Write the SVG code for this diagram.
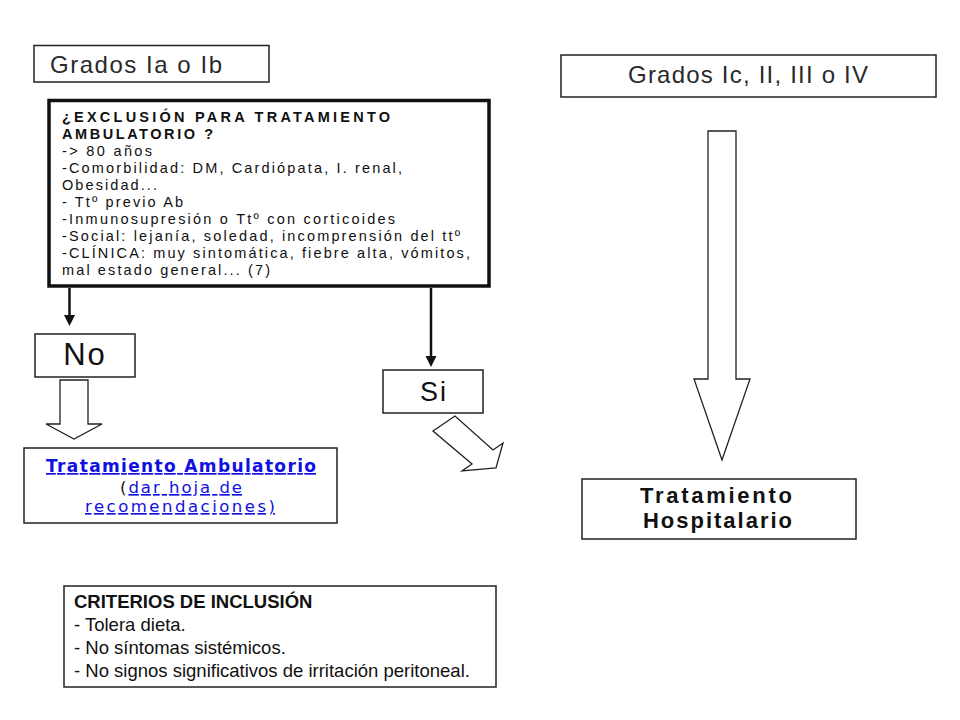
<svg xmlns="http://www.w3.org/2000/svg" width="960" height="720" viewBox="0 0 960 720">
<style>
.box{fill:#fff;stroke:#222;stroke-width:1.5}
.t{font-family:"Liberation Sans",Arial,sans-serif;fill:#111}
.g{font-size:24px;fill:#2a2a2a}
.ex{font-size:14.5px}
.exb{font-size:14.5px;font-weight:bold}
.v{font-family:"DejaVu Sans",Verdana,sans-serif}
.lnk{fill:#1010e0;text-decoration:underline}
.hol{fill:#fff;stroke:#222;stroke-width:1.3;stroke-linejoin:miter}
.thin{stroke:#111;stroke-width:2.5;fill:none}
</style>
<defs>
<marker id="ah" markerUnits="userSpaceOnUse" markerWidth="12" markerHeight="12" refX="3" refY="5.5" orient="auto">
<path d="M0,0 L11,5.5 L0,11 z" fill="#111"/>
</marker>
</defs>
<rect width="960" height="720" fill="#fff"/>

<g id="grados-ia">
<rect class="box" x="34" y="45.5" width="235" height="36.5"/>
<text class="t g" x="50" y="73" textLength="172" lengthAdjust="spacing">Grados Ia o Ib</text>
</g>

<g id="exclusion">
<rect x="49" y="100.5" width="440" height="185.5" fill="#fff" stroke="#111" stroke-width="3.5"/>
<text class="t exb" x="62" y="122" textLength="328" lengthAdjust="spacing">¿EXCLUSIÓN PARA TRATAMIENTO</text>
<text class="t exb" x="62" y="139" textLength="151" lengthAdjust="spacing">AMBULATORIO ?</text>
<text class="t ex" x="62" y="156" textLength="90" lengthAdjust="spacing">-&gt; 80 años</text>
<text class="t ex" x="62" y="173" textLength="340" lengthAdjust="spacing">-Comorbilidad: DM, Cardiópata, I. renal,</text>
<text class="t ex" x="62" y="190" textLength="95" lengthAdjust="spacing">Obesidad...</text>
<text class="t ex" x="62" y="207" textLength="121" lengthAdjust="spacing">- Ttº previo Ab</text>
<text class="t ex" x="62" y="224" textLength="333" lengthAdjust="spacing">-Inmunosupresión o Ttº con corticoides</text>
<text class="t ex" x="62" y="241" textLength="398" lengthAdjust="spacing">-Social: lejanía, soledad, incomprensión del ttº</text>
<text class="t ex" x="62" y="258" textLength="408" lengthAdjust="spacing">-CLÍNICA: muy sintomática, fiebre alta, vómitos,</text>
<text class="t ex" x="62" y="275" textLength="208" lengthAdjust="spacing">mal estado general... (7)</text>
</g>

<g id="no">
<rect class="box" x="35" y="334" width="100" height="43"/>
<text class="t" x="85" y="365" font-size="31" text-anchor="middle" letter-spacing="2">No</text>
</g>

<g id="si">
<rect class="box" x="383" y="370" width="100" height="43"/>
<text class="t" x="434" y="401" font-size="27" text-anchor="middle" letter-spacing="2">Si</text>
</g>

<g id="ambulatorio">
<rect class="box" x="24" y="448" width="313" height="75"/>
<text class="v lnk" x="46" y="472" font-size="17" font-weight="bold" textLength="270" lengthAdjust="spacing">Tratamiento Ambulatorio</text>
<text class="v" x="120" y="493" font-size="16.5" textLength="122" lengthAdjust="spacing" fill="#111">(<tspan class="lnk">dar hoja de</tspan></text>
<text class="v lnk" x="85" y="512" font-size="16.5" textLength="190" lengthAdjust="spacing">recomendaciones)</text>
</g>

<g id="grados-ic">
<rect class="box" x="561" y="55" width="375" height="42"/>
<text class="t g" x="628" y="83" textLength="240" lengthAdjust="spacing">Grados Ic, II, III o IV</text>
</g>

<g id="hospitalario">
<rect class="box" x="582" y="479" width="274" height="60"/>
<text class="t" x="640" y="503" font-size="22" font-weight="bold" textLength="152" lengthAdjust="spacing">Tratamiento</text>
<text class="t" x="643" y="528" font-size="22" font-weight="bold" textLength="149" lengthAdjust="spacing">Hospitalario</text>
</g>

<g id="criterios">
<rect class="box" x="64" y="586" width="432" height="101" stroke-width="1.2"/>
<text class="t" x="74" y="608" font-size="18.5" font-weight="bold">CRITERIOS DE INCLUSIÓN</text>
<text class="t" x="74" y="631" font-size="18.5">- Tolera dieta.</text>
<text class="t" x="74" y="654" font-size="18.5">- No síntomas sistémicos.</text>
<text class="t" x="74" y="677" font-size="18.5">- No signos significativos de irritación peritoneal.</text>
</g>

<g id="connectors">
<line class="thin" x1="69.5" y1="288" x2="69.5" y2="318" marker-end="url(#ah)"/>
<line class="thin" x1="431" y1="288" x2="431" y2="359" marker-end="url(#ah)"/>
<polygon class="hol" points="60,380 88,380 88,424 102,424 74,439 46,424 60,424"/>
<polygon class="hol" points="455,416 433,431 472,464 462,471 496,468 503,443 493,450"/>
<polygon class="hol" points="708,131 736,131 736,379 750,379 722,460 694,379 708,379"/>
</g>
</svg>
